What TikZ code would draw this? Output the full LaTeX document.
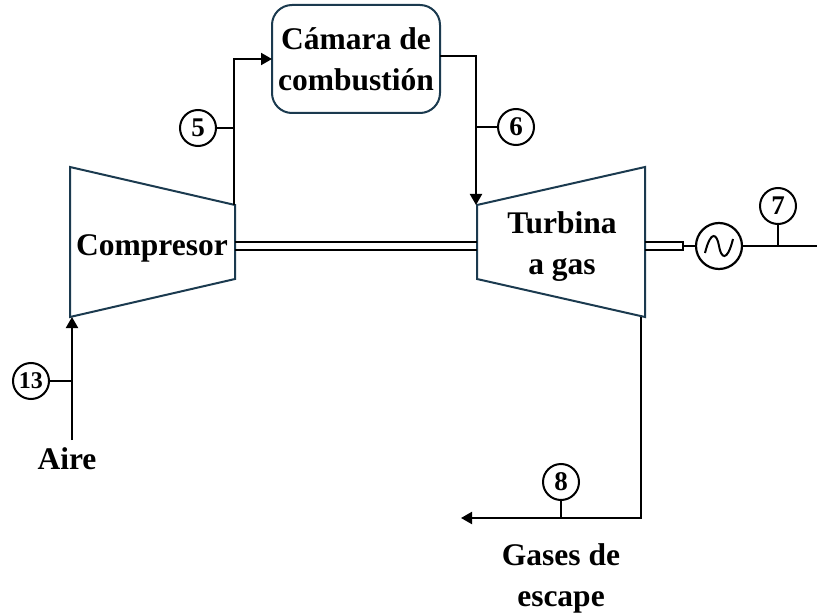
\documentclass[tikz,border=0pt]{standalone}
\usepackage{fontspec}
\setmainfont{Liberation Serif}
\usetikzlibrary{calc,arrows.meta}
\definecolor{EquipDark}{HTML}{1B3A4F}

\begin{document}
\begin{tikzpicture}[
    x=1pt, y=-1pt,
    equip/.style={draw=EquipDark, line width=2pt, line join=miter},
    flow/.style={draw=black, line width=2pt, -{Triangle[length=11pt,width=12pt]}},
    tag/.style={draw=black, line width=2pt},
    num/.style={circle, draw=black, line width=2pt, minimum size=36pt, inner sep=0pt, font=\bfseries\fontsize{27}{27}\selectfont},
    lbl/.style={inner sep=0pt, align=center, font=\bfseries\fontsize{31.5}{41}\selectfont}
 ]
\useasboundingbox (0,0) rectangle (817,615);

% compresor y turbina
\coordinate (compA) at (70,167);
\coordinate (compB) at (235,205);
\coordinate (compC) at (235,279);
\coordinate (compD) at (70,317);
\coordinate (turbA) at (477,205);
\coordinate (turbB) at (645,167);
\coordinate (turbC) at (645,317);
\coordinate (turbD) at (477,279);
\draw [equip] (compA) -- (compB) -- (compC) -- (compD) -- cycle;
\draw [equip] (turbA) -- (turbB) -- (turbC) -- (turbD) -- cycle;

\node (camara) [equip, rounded corners=20pt, minimum width=168pt, minimum height=108pt, inner sep=0pt, lbl, draw=EquipDark] at (356,59) {C\'amara de\\combusti\'on};
\node (compresor) [lbl] at (152,248) {Compresor};
\node (turbina) [lbl] at (562,247) {Turbina\\a gas};
\node (aire) [lbl] at (67,459) {Aire};
\node (gases) [lbl] at (561,578) {Gases de\\escape};

\node (gen) [circle, draw=black, line width=2.2pt, minimum size=46pt, inner sep=0pt] at (719,246) {};
\draw [line width=2pt] ($(gen)+(-14,7)$) .. controls ($(gen)+(-8,-17)$) and ($(gen)+(-2,-12)$) .. (gen.center) .. controls ($(gen)+(2,12)$) and ($(gen)+(8,17)$) .. ($(gen)+(14,-7)$);

\node (n5) [num] at (198,128) {5};
\node (n6) [num] at (516,127) {6};
\node (n7) [num] at (778,206) {7};
\node (n8) [num] at (561,482) {8};
\node (n13) [num, minimum size=36pt, font=\bfseries\fontsize{24}{24}\selectfont] at (31,381) {13};

% flujos
\coordinate (in5) at (272,59);
\coordinate (out6) at (440,56);
\coordinate (aireIn) at (72,440);
\coordinate (airePt) at (72,317);
\coordinate (gasOut) at (641,317);
\coordinate (gasEnd) at (461,518);
\draw [flow] (compB -| 234,0) ++(0,0) |- (in5);
\draw [flow] (out6) -| (turbA -| 476,0);
\draw [flow] (aireIn) -- (airePt);
\draw [flow] (gasOut) |- (gasEnd);

% etiquetas
\draw [tag] (n5) -- (n5 -| 234,0);
\draw [tag] (n6) -- (n6 -| 476,0);
\draw [tag] (n13) -- (n13 -| 72,0);
\draw [tag] (n7) -- (n7 |- 0,246);
\draw [tag] (n8) -- (n8 |- 0,518);

% eje
\coordinate (shaftA) at (683,246);
\coordinate (lineEnd) at (817,246);
\draw [line width=1.8pt] (235,242) -- (477,242);
\draw [line width=1.8pt] (235,250) -- (477,250);
\draw [line width=1.6pt] (645,242) -- (683,242) -- (683,250) -- (645,250);
\draw [line width=2pt] (shaftA) -- (gen);
\draw [line width=2.6pt] (gen) -- (lineEnd);

\end{tikzpicture}
\end{document}
